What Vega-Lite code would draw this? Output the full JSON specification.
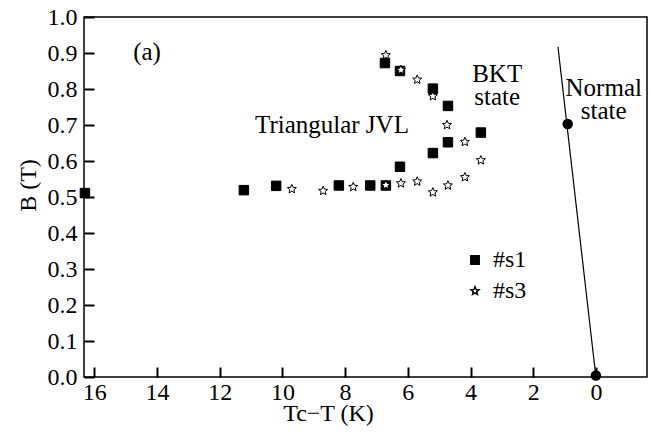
{
  "$schema": "https://vega.github.io/schema/vega-lite/v6.json",
  "width": 563,
  "height": 360,
  "autosize": {"type": "none"},
  "padding": {"left": 84, "top": 17, "right": 4, "bottom": 67},
  "background": "white",
  "config": {
    "view": {"stroke": "black", "strokeWidth": 1.5},
    "font": "Liberation Serif",
    "axis": {
      "grid": false,
      "labelFont": "Liberation Serif",
      "labelFontSize": 24,
      "labelColor": "black",
      "titleFont": "Liberation Serif",
      "titleFontSize": 24,
      "titleFontWeight": "normal",
      "titleColor": "black"
    },
    "legend": {
      "labelFont": "Liberation Serif",
      "labelFontSize": 24,
      "labelColor": "black",
      "symbolStrokeColor": "black"
    }
  },
  "datasets": {
    "pts": [
      {"sample": "#s1", "x": 16.3, "B": 0.511},
      {"sample": "#s1", "x": 11.23, "B": 0.519},
      {"sample": "#s1", "x": 10.2, "B": 0.531},
      {"sample": "#s1", "x": 8.2, "B": 0.532},
      {"sample": "#s1", "x": 7.2, "B": 0.532},
      {"sample": "#s1", "x": 6.7, "B": 0.532},
      {"sample": "#s1", "x": 6.25, "B": 0.584},
      {"sample": "#s1", "x": 5.2, "B": 0.622},
      {"sample": "#s1", "x": 4.72, "B": 0.652},
      {"sample": "#s1", "x": 3.67, "B": 0.679},
      {"sample": "#s1", "x": 4.72, "B": 0.753},
      {"sample": "#s1", "x": 5.2, "B": 0.801},
      {"sample": "#s1", "x": 6.25, "B": 0.85},
      {"sample": "#s1", "x": 6.73, "B": 0.872},
      {"sample": "#s3", "x": 9.7, "B": 0.522},
      {"sample": "#s3", "x": 8.7, "B": 0.517},
      {"sample": "#s3", "x": 7.74, "B": 0.528},
      {"sample": "#s3", "x": 6.7, "B": 0.533},
      {"sample": "#s3", "x": 6.22, "B": 0.538},
      {"sample": "#s3", "x": 5.7, "B": 0.543},
      {"sample": "#s3", "x": 5.2, "B": 0.513},
      {"sample": "#s3", "x": 4.72, "B": 0.532},
      {"sample": "#s3", "x": 4.18, "B": 0.555},
      {"sample": "#s3", "x": 3.67, "B": 0.602},
      {"sample": "#s3", "x": 4.18, "B": 0.653},
      {"sample": "#s3", "x": 4.75, "B": 0.7},
      {"sample": "#s3", "x": 5.2, "B": 0.78},
      {"sample": "#s3", "x": 5.7, "B": 0.826},
      {"sample": "#s3", "x": 6.22, "B": 0.853},
      {"sample": "#s3", "x": 6.7, "B": 0.894}
    ],
    "boundary": [
      {"x": 1.21, "B": 0.917},
      {"x": 0.0, "B": 0.0}
    ],
    "circles": [
      {"x": 0.9, "B": 0.703},
      {"x": 0.0, "B": 0.004}
    ],
    "labels": [
      {"text": "(a)", "x": 14.32, "B": 0.903},
      {"text": "Triangular JVL", "x": 8.42, "B": 0.7},
      {"text": "BKT\nstate", "x": 3.15, "B": 0.843},
      {"text": "Normal\nstate", "x": -0.25, "B": 0.803}
    ]
  },
  "encoding": {
    "x": {
      "field": "x",
      "type": "quantitative",
      "scale": {"domain": [16.33, -1.63], "nice": false, "zero": false},
      "axis": {
        "values": [16, 14, 12, 10, 8, 6, 4, 2, 0],
        "domain": false,
        "ticks": true,
        "offset": -10,
        "tickSize": 10,
        "tickColor": "#000000",
        "tickWidth": 2,
        "tickOpacity": 1,
        "zindex": 2,
        "labelPadding": 3,
        "title": "Tc−T (K)",
        "titleX": 244,
        "titleY": 53,
        "titleBaseline": "alphabetic"
      }
    },
    "y": {
      "field": "B",
      "type": "quantitative",
      "scale": {"domain": [0, 1], "nice": false, "zero": false},
      "axis": {
        "values": [0, 0.1, 0.2, 0.3, 0.4, 0.5, 0.6, 0.7, 0.8, 0.9, 1.0],
        "format": ".1f",
        "domain": false,
        "ticks": true,
        "offset": -10,
        "tickSize": 10,
        "tickColor": "#000000",
        "tickWidth": 2,
        "tickOpacity": 1,
        "zindex": 2,
        "labelPadding": 7,
        "title": "B (T)",
        "titleX": -54,
        "titleY": 168,
        "titleBaseline": "bottom",
        "titleAngle": -90
      }
    }
  },
  "layer": [
    {
      "data": {"name": "boundary"},
      "mark": {"type": "line", "color": "black", "strokeWidth": 1.2},
      "encoding": {"order": {"field": "B", "type": "quantitative"}}
    },
    {
      "data": {"name": "circles"},
      "mark": {"type": "point", "shape": "circle", "filled": true, "color": "black", "size": 110, "opacity": 1}
    },
    {
      "data": {"name": "pts"},
      "mark": {"type": "point", "filled": true, "strokeWidth": 1, "opacity": 1, "fillOpacity": 1, "strokeOpacity": 1, "size": 90},
      "encoding": {
        "shape": {
          "field": "sample",
          "type": "nominal",
          "scale": {
            "domain": ["#s1", "#s3"],
            "range": ["square", "M0,-1L0.265,-0.364L0.951,-0.309L0.428,0.139L0.588,0.809L0,0.45L-0.588,0.809L-0.428,0.139L-0.951,-0.309L-0.265,-0.364Z"]
          },
          "legend": {
            "title": null,
            "orient": "none",
            "legendX": 379,
            "legendY": 231,
            "symbolSize": 70,
            "rowPadding": 7,
            "labelOffset": 6
          }
        },
        "fill": {
          "field": "sample",
          "type": "nominal",
          "scale": {"domain": ["#s1", "#s3"], "range": ["black", "white"]},
          "legend": {
            "title": null,
            "orient": "none",
            "legendX": 379,
            "legendY": 231,
            "symbolSize": 70,
            "rowPadding": 7,
            "labelOffset": 6
          }
        },
        "stroke": {
          "field": "sample",
          "type": "nominal",
          "scale": {"domain": ["#s1", "#s3"], "range": ["black", "black"]},
          "legend": {
            "title": null,
            "orient": "none",
            "legendX": 379,
            "legendY": 231,
            "symbolSize": 70,
            "rowPadding": 7,
            "labelOffset": 6
          }
        }
      }
    },
    {
      "data": {"name": "labels"},
      "mark": {"type": "text", "fontSize": 25, "font": "Liberation Serif", "color": "black", "baseline": "middle", "align": "center", "lineBreak": "\n", "lineHeight": 23},
      "encoding": {"text": {"field": "text", "type": "nominal"}}
    }
  ]
}
